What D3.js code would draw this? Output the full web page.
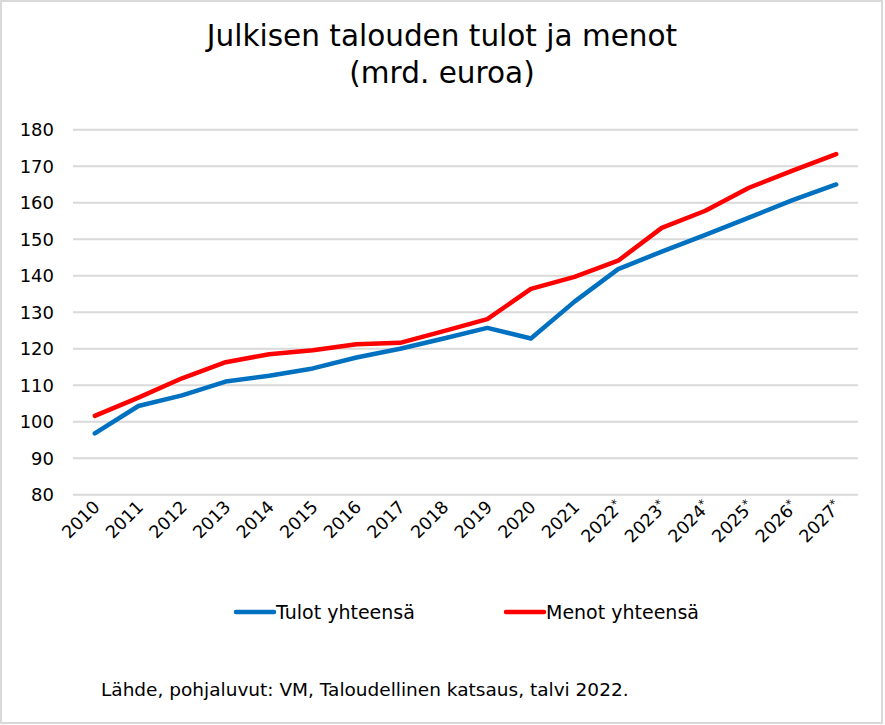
<!DOCTYPE html>
<html>
<head>
<meta charset="utf-8">
<script src="https://cdn.jsdelivr.net/npm/d3@7"></script>
<style>
  body { margin: 0; background: #fff; }
  text { font-family: "DejaVu Sans", "Open Sans", sans-serif; fill: #000; }
</style>
</head>
<body>
<script>
// Years on the x axis (* = forecast)
var years = ["2010", "2011", "2012", "2013", "2014", "2015", "2016", "2017", "2018",
             "2019", "2020", "2021", "2022*", "2023*", "2024*", "2025*", "2026*", "2027*"];

// Revenue and expenditure, bn EUR
var tulot = [96.8, 104.3, 107.2, 111.0, 112.6, 114.6, 117.6, 120.0, 122.8,
             125.7, 122.8, 132.9, 141.8, 146.6, 151.2, 155.9, 160.7, 165.0];
var menot = [101.6, 106.6, 111.9, 116.3, 118.5, 119.6, 121.2, 121.6, 124.8,
             128.1, 136.4, 139.7, 144.1, 153.1, 157.8, 164.1, 168.8, 173.3];

var yTicks = [80, 90, 100, 110, 120, 130, 140, 150, 160, 170, 180];

var seriesNames = ["Tulot yhteensä", "Menot yhteensä"];
var seriesColors = ["#0070c0", "#ff0000"];

var width = 885,
    height = 725;

var svg = d3.select("body").append("svg")
    .attr("width", width)
    .attr("height", height);

// outer frame
svg.append("rect")
    .attr("x", 1).attr("y", 1)
    .attr("width", width - 4).attr("height", height - 3)
    .attr("fill", "#fff")
    .attr("stroke", "#d9d9d9")
    .attr("stroke-width", 2);

// title
var title = svg.append("text")
    .attr("text-anchor", "middle")
    .style("font-size", "29.5px");
title.append("tspan").attr("x", 442).attr("y", 46).text("Julkisen talouden tulot ja menot");
title.append("tspan").attr("x", 442).attr("y", 83).text("(mrd. euroa)");

var x = d3.scalePoint()
    .domain(years)
    .range([73, 858])
    .padding(0.5);

var y = d3.scaleLinear()
    .domain([80, 180])
    .range([494.7, 129.7]);

// gridlines
svg.append("g")
  .selectAll("line")
  .data(yTicks)
  .join("line")
    .attr("x1", 73).attr("x2", 858)
    .attr("y1", d => y(d)).attr("y2", d => y(d))
    .attr("stroke", "#d9d9d9")
    .attr("stroke-width", 2);

// y tick labels
svg.append("g")
  .selectAll("text")
  .data(yTicks)
  .join("text")
    .attr("x", 54)
    .attr("y", d => y(d))
    .attr("dy", "0.35em")
    .attr("text-anchor", "end")
    .style("font-size", "18px")
    .text(d => d);

// x tick labels, rotated
svg.append("g")
  .selectAll("text")
  .data(years)
  .join("text")
    .attr("transform", d => `translate(${x(d) + 6},${508}) rotate(-45)`)
    .attr("text-anchor", "end")
    .style("font-size", "17.5px")
    .each(function(d) {
      var t = d3.select(this);
      var star = d.endsWith("*");
      t.append("tspan").text(star ? d.slice(0, -1) : d);
      if (star) t.append("tspan").attr("dy", "-0.45em").style("font-size", "12px").text("*");
    });

var line = d3.line()
    .x((d, i) => x(years[i]))
    .y(d => y(d));

[tulot, menot].forEach(function(s, k) {
  svg.append("path")
      .datum(s)
      .attr("fill", "none")
      .attr("stroke", seriesColors[k])
      .attr("stroke-width", 4.5)
      .attr("stroke-linejoin", "round")
      .attr("stroke-linecap", "round")
      .attr("d", line);
});

// legend
var legendX = [236, 506];
var legend = svg.append("g")
  .selectAll("g")
  .data(seriesNames)
  .join("g")
    .attr("transform", (d, i) => `translate(${legendX[i]},612)`);

legend.append("line")
    .attr("x1", 0).attr("x2", 38)
    .attr("stroke", (d, i) => seriesColors[i])
    .attr("stroke-width", 4.5)
    .attr("stroke-linecap", "round");

legend.append("text")
    .attr("x", 40)
    .attr("dy", "0.35em")
    .style("font-size", "19px")
    .text(d => d);

// source
svg.append("text")
    .attr("x", 101)
    .attr("y", 696)
    .style("font-size", "18.5px")
    .text("Lähde, pohjaluvut: VM, Taloudellinen katsaus, talvi 2022.");
</script>
</body>
</html>
